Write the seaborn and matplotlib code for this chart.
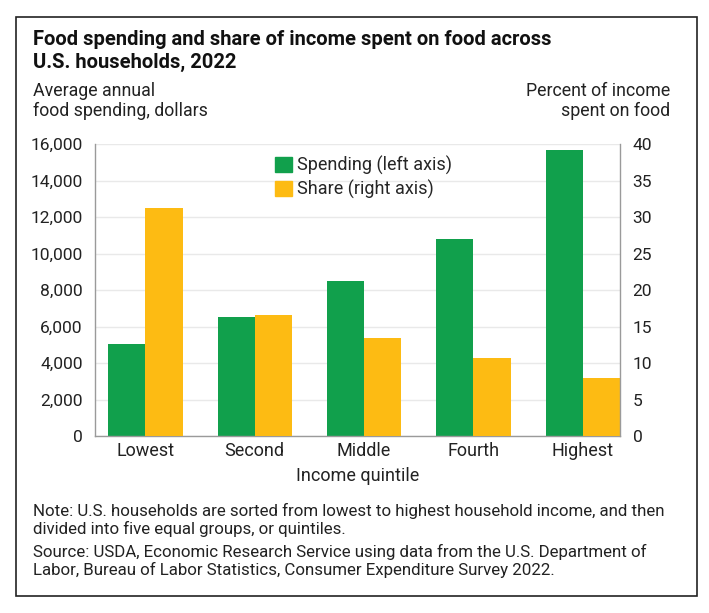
import pandas as pd
import matplotlib.pyplot as plt
import seaborn as sns
from matplotlib.patches import Rectangle, Patch

sns.set_style("white")
plt.rcParams['font.family'] = ['Roboto', 'DejaVu Sans']

# data
quintiles = ["Lowest", "Second", "Middle", "Fourth", "Highest"]
spending = [5060, 6500, 8520, 10800, 15700]
share = [31.2, 16.6, 13.4, 10.7, 7.9]

GREEN = "#11a04c"
YELLOW = "#fdbb13"
GRID = "#e9e9e9"
SPINE = "#9a9a9a"
TXT = "#222222"

df_sp = pd.DataFrame({"quintile": quintiles, "value": spending, "series": "Spending"})
df_sh = pd.DataFrame({"quintile": quintiles, "value": share, "series": "Share"})
levels = ["Spending", "Share"]
pal = {"Spending": GREEN, "Share": YELLOW}

fig = plt.figure(figsize=(7.09, 6.13), dpi=100)
ax = fig.add_axes([0.134, 0.2887, 0.7405, 0.4763])
ax2 = ax.twinx()

# same hue_order on both axes so the bars dodge side by side
sns.barplot(data=df_sp, x="quintile", y="value", hue="series", hue_order=levels,
            order=quintiles, palette=pal, width=0.68, dodge=True, saturation=1,
            linewidth=0, ax=ax, legend=False)
sns.barplot(data=df_sh, x="quintile", y="value", hue="series", hue_order=levels,
            order=quintiles, palette=pal, width=0.68, dodge=True, saturation=1,
            linewidth=0, ax=ax2, legend=False)

ax.set_ylim(0, 16000)
ax2.set_ylim(0, 40)
ax.set_xlim(-0.46, 4.34)
ax.set_yticks(range(0, 16001, 2000))
ax.set_yticklabels([f"{v:,}" for v in range(0, 16001, 2000)])
ax2.set_yticks(range(0, 41, 5))
ax.grid(axis="y", color=GRID, lw=1)
ax.set_axisbelow(True)

for a in (ax, ax2):
    for s in a.spines.values():
        s.set_visible(False)
    a.set_xlabel("")
    a.set_ylabel("")
ax.spines["left"].set_visible(True)
ax.spines["bottom"].set_visible(True)
ax2.spines["right"].set_visible(True)
for s in (ax.spines["left"], ax.spines["bottom"], ax2.spines["right"]):
    s.set_color(SPINE)
    s.set_linewidth(1)

ax.tick_params(axis="y", length=0, pad=9, labelsize=12.5, labelcolor=TXT)
ax2.tick_params(axis="y", length=0, pad=9, labelsize=12.5, labelcolor=TXT)
ax.tick_params(axis="x", length=0, pad=4, labelsize=13, labelcolor=TXT)
ax.set_xlabel("Income quintile", fontsize=13, color=TXT, labelpad=5)

handles = [Patch(color=GREEN, label="Spending (left axis)"),
           Patch(color=YELLOW, label="Share (right axis)")]
ax.legend(handles=handles, loc="upper left", bbox_to_anchor=(0.33, 0.985), frameon=False,
          fontsize=13, handlelength=0.9, handleheight=0.9, handletextpad=0.3,
          labelspacing=0.3, borderaxespad=0)

fig.text(33 / 709, 1 - 51 / 613, "Food spending and share of income spent on food across\nU.S. households, 2022",
         fontsize=14.5, fontweight="bold", va="center", ha="left", linespacing=1.25, color="#111111")
fig.text(33 / 709, 1 - 101 / 613, "Average annual\nfood spending, dollars",
         fontsize=12.8, va="center", ha="left", linespacing=1.2, color=TXT)
fig.text(670 / 709, 1 - 101 / 613, "Percent of income\nspent on food",
         fontsize=12.8, va="center", ha="right", multialignment="right", linespacing=1.2, color=TXT)
fig.text(33 / 709, 1 - 520 / 613,
         "Note: U.S. households are sorted from lowest to highest household income, and then\n"
         "divided into five equal groups, or quintiles.",
         fontsize=12.2, va="center", ha="left", linespacing=1.2, color=TXT)
fig.text(33 / 709, 1 - 561 / 613,
         "Source: USDA, Economic Research Service using data from the U.S. Department of\n"
         "Labor, Bureau of Labor Statistics, Consumer Expenditure Survey 2022.",
         fontsize=12.2, va="center", ha="left", linespacing=1.2, color=TXT)

# outer frame
fig.patches.append(Rectangle((16 / 709, 1 - 596 / 613), 681 / 709, 579 / 613,
                             transform=fig.transFigure, fill=False, edgecolor="#222222", lw=1.2))

fig.savefig("out.png", dpi=100)
